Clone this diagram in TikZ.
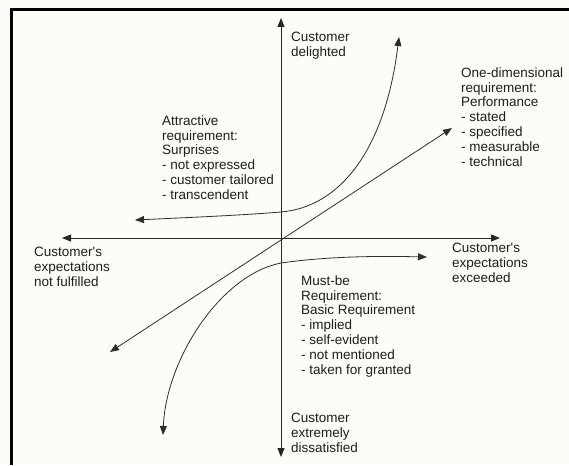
\documentclass[tikz,border=0pt]{standalone}
\usepackage{fontspec}
\setmainfont{Liberation Sans}
\usetikzlibrary{arrows.meta}
\definecolor{paper}{RGB}{252,252,248}
\definecolor{ink}{RGB}{30,30,30}
\begin{document}
\begin{tikzpicture}[x=1pt,y=-1pt,
  lbl/.style={anchor=north west, inner sep=0pt, align=left,
    font=\fontsize{13.5}{14.9}\selectfont, text=ink},
  ln/.style={draw=black!82, line width=0.8pt},
  axis/.style={draw=black!85, line width=1pt},
  both/.style={{Triangle[length=9pt,width=7pt]}-{Triangle[length=9pt,width=7pt]}}]
\useasboundingbox (0,0) rectangle (569,465);
\fill[paper] (0,0) rectangle (569,465);
% frame
\draw[line width=2.4pt] (11.5,465) -- (11.5,9.5) -- (569,9.5);
% coordinates
\coordinate (vt) at (281,18);
\coordinate (vb) at (281,457);
\coordinate (hl) at (62,238);
\coordinate (hr) at (500,238);
\coordinate (d1) at (110,352);
\coordinate (d2) at (452,128);
\coordinate (a1) at (135,220);
\coordinate (am) at (281,212);
\coordinate (a2) at (399,37);
\coordinate (m1) at (163,435);
\coordinate (mm) at (281,263);
\coordinate (m2) at (427,257);
% axes
\draw[axis,both] (vb) -- (vt);
\draw[axis,both] (hl) -- (hr);
% one-dimensional
\draw[ln,both] (d1) -- (d2);
% attractive
\draw[ln,both] (a1) .. controls (200,217) and (245,215) .. (am)
  .. controls (340,207) and (385,150) .. (a2);
% must-be
\draw[ln,both] (m1) .. controls (166,360) and (220,275) .. (mm)
  .. controls (330,256) and (380,256) .. (m2);
% labels
\node[lbl] (delighted) at (291,32.2) {Customer\\delighted};
\node[lbl] (onedim) at (461,67.2) {One-dimensional\\requirement:\\Performance\\- stated\\- specified\\- measurable\\- technical};
\node[lbl] (attr) at (162,115.2) {Attractive\\requirement:\\Surprises\\- not expressed\\- customer tailored\\- transcendent};
\node[lbl] (notful) at (34,247.2) {Customer\textquotesingle s\\expectations\\not fulfilled};
\node[lbl] (exceed) at (452,243.2) {Customer\textquotesingle s\\expectations\\exceeded};
\node[lbl] (mustbe) at (301,275.2) {Must-be\\Requirement:\\Basic Requirement\\- implied\\- self-evident\\- not mentioned\\- taken for granted};
\node[lbl] (dissat) at (291,413.2) {Customer\\extremely\\dissatisfied};
\end{tikzpicture}
\end{document}
